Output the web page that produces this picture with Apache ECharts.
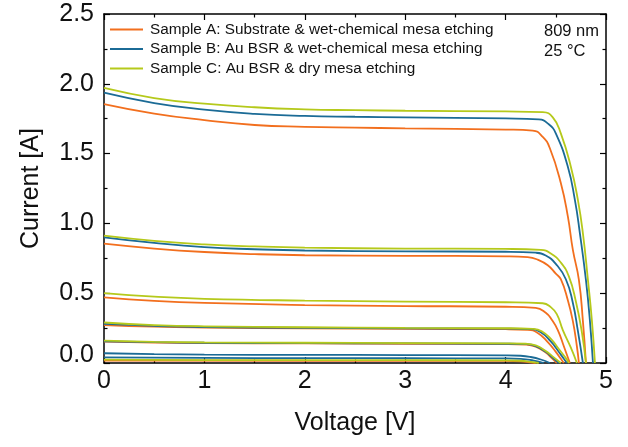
<!DOCTYPE html>
<html>
<head>
<meta charset="utf-8">
<script src="https://cdn.jsdelivr.net/npm/echarts@6/dist/echarts.min.js"></script>
<style>
html,body{margin:0;padding:0;background:#fff;}
#main{width:628px;height:447px;}
</style>
</head>
<body>
<div id="main"></div>
<script>
// 图例名称
var names = ['Sample A: Substrate & wet-chemical mesa etching',
	'Sample B: Au BSR & wet-chemical mesa etching',
	'Sample C: Au BSR & dry mesa etching'];
var colors = ['#f26f1e', '#1b6b96', '#b5c91b'];
var xTicks = [0, 1, 2, 3, 4, 5];
var yTicks = [0, 0.5, 1.0, 1.5, 2.0, 2.5];

// [电压 V, 电流 A]  —— level 1 (highest irradiance)
var a1 = [[0,1.855],[0.5,1.787],[1,1.74],[1.5,1.705],[2,1.692],[2.5,1.686],[3,1.681],[4,1.672],[4.27,1.665],[4.37,1.62],[4.44,1.54],[4.55,1.29],[4.62,1.05],[4.67,0.81],[4.73,0.595],[4.77,0.3],[4.8,0]];
var b1 = [[0,1.936],[0.5,1.862],[1,1.815],[1.5,1.785],[2,1.77],[2.5,1.764],[3,1.76],[4,1.752],[4.33,1.745],[4.43,1.71],[4.5,1.645],[4.62,1.406],[4.69,1.168],[4.74,0.929],[4.8,0.595],[4.84,0.3],[4.87,0]];
var c1 = [[0,1.97],[0.5,1.898],[1,1.858],[1.5,1.832],[2,1.817],[2.5,1.811],[3,1.807],[4,1.802],[4.37,1.797],[4.47,1.76],[4.55,1.645],[4.65,1.406],[4.72,1.168],[4.77,0.929],[4.82,0.595],[4.86,0.3],[4.89,0]];
// level 2
var a2 = [[0,0.855],[0.5,0.82],[1,0.795],[1.5,0.78],[2,0.772],[3,0.768],[4,0.764],[4.22,0.758],[4.32,0.74],[4.42,0.7],[4.5,0.64],[4.55,0.6],[4.62,0.45],[4.67,0.3],[4.71,0.12],[4.73,0]];
var b2 = [[0,0.9],[0.5,0.86],[1,0.83],[1.5,0.815],[2,0.806],[3,0.8],[4,0.797],[4.3,0.79],[4.4,0.77],[4.5,0.71],[4.6,0.6],[4.67,0.43],[4.72,0.23],[4.77,0]];
var c2 = [[0,0.912],[0.5,0.875],[1,0.85],[1.5,0.835],[2,0.826],[3,0.82],[4,0.817],[4.35,0.81],[4.45,0.785],[4.55,0.72],[4.63,0.62],[4.7,0.44],[4.76,0.22],[4.8,0]];
// level 3
var a3 = [[0,0.47],[0.5,0.445],[1,0.43],[2,0.415],[3,0.408],[4,0.403],[4.3,0.395],[4.4,0.36],[4.46,0.31],[4.52,0.236],[4.58,0.12],[4.64,0]];
var c3 = [[0,0.5],[0.5,0.475],[1,0.46],[2,0.447],[3,0.44],[4,0.435],[4.37,0.428],[4.45,0.4],[4.51,0.35],[4.57,0.236],[4.65,0.11],[4.71,0]];
// level 4
var a4 = [[0,0.272],[0.5,0.26],[1,0.254],[2,0.248],[3,0.244],[4,0.242],[4.22,0.238],[4.32,0.215],[4.42,0.15],[4.5,0.08],[4.55,0.03],[4.58,0]];
var b4 = [[0,0.28],[0.5,0.266],[1,0.258],[2,0.252],[3,0.248],[4,0.246],[4.25,0.242],[4.35,0.22],[4.45,0.155],[4.52,0.09],[4.58,0.03],[4.61,0]];
var c4 = [[0,0.29],[0.5,0.272],[1,0.263],[2,0.256],[3,0.251],[4,0.249],[4.27,0.245],[4.36,0.228],[4.46,0.165],[4.53,0.1],[4.6,0.035],[4.63,0]];
// level 5
var a5 = [[0,0.153],[0.5,0.147],[1,0.143],[2,0.14],[3,0.138],[4,0.136],[4.2,0.132],[4.3,0.117],[4.4,0.075],[4.46,0.035],[4.51,0]];
var b5 = [[0,0.155],[0.5,0.149],[1,0.145],[2,0.142],[3,0.14],[4,0.138],[4.2,0.135],[4.3,0.121],[4.4,0.08],[4.47,0.037],[4.53,0]];
var c5 = [[0,0.16],[0.5,0.152],[1,0.148],[2,0.145],[3,0.143],[4,0.141],[4.2,0.138],[4.3,0.126],[4.4,0.086],[4.48,0.04],[4.55,0]];
// level 6 / 7
var b6 = [[0,0.07],[0.5,0.064],[1,0.06],[2,0.058],[3,0.057],[4,0.055],[4.15,0.052],[4.25,0.043],[4.35,0.025],[4.44,0]];
var b7 = [[0,0.04],[1,0.036],[2,0.035],[3,0.034],[4,0.033],[4.15,0.03],[4.28,0.017],[4.38,0]];
var a7 = [[0,0.018],[2,0.016],[4,0.015],[4.15,0.012],[4.24,0.005],[4.3,0]];
var c7 = [[0,0.024],[1,0.021],[2,0.02],[3,0.02],[4,0.019],[4.15,0.016],[4.25,0.008],[4.33,0]];

var curves = [
	[0,a1],[1,b1],[2,c1],
	[0,a2],[1,b2],[2,c2],
	[0,a3],[2,c3],
	[0,a4],[1,b4],[2,c4],
	[0,a5],[1,b5],[2,c5],
	[1,b6],[0,a7],[1,b7],[2,c7]
];

function makeSeries(){
	var s = [];
	for(var i=0;i<curves.length;i++){
		var k = curves[i][0];
		s.push({
			name : names[k],
			type : 'line',
			data : curves[i][1],
			symbol : 'none',
			smooth : 0.5,
			clip : true,
			lineStyle : {color : colors[k], width : 1.8},
			itemStyle : {color : colors[k]},
			z : 2 + k
		});
	}
	return s;
}

function axisBase(){
	return {
		type : 'value',
		axisLine : {show : true, onZero : false, lineStyle : {color : '#000', width : 1.5}},
		axisTick : {show : true, inside : true, length : 6, lineStyle : {color : '#000', width : 1.2}},
		minorTick : {show : true, splitNumber : 2, length : 3.5, lineStyle : {color : '#000', width : 1.2}},
		splitLine : {show : false}
	};
}

var font = '"Liberation Sans", Arial, sans-serif';

var xb = axisBase();
xb.min = xTicks[0]; xb.max = xTicks[xTicks.length-1]; xb.interval = 1;
xb.position = 'bottom';
xb.name = 'Voltage [V]';
xb.nameLocation = 'middle';
xb.nameGap = 48;
xb.nameTextStyle = {fontFamily : font, fontSize : 25, color : '#111'};
xb.axisLabel = {fontFamily : font, fontSize : 25, color : '#111', margin : 6};

var xt = axisBase();
xt.min = 0; xt.max = 5; xt.interval = 1;
xt.position = 'top';
xt.axisLabel = {show : false};

var yl = axisBase();
yl.min = yTicks[0]; yl.max = yTicks[yTicks.length-1]; yl.interval = 0.5;
yl.position = 'left';
yl.name = 'Current [A]';
yl.nameLocation = 'middle';
yl.nameGap = 60;
yl.nameTextStyle = {fontFamily : font, fontSize : 25, color : '#111'};
yl.axisLabel = {
	fontFamily : font, fontSize : 25, color : '#111', margin : 10,
	formatter : function(v){
		// 0.0 稍微上移, 避免和x轴的0重叠
		if(v==0){ return '{z|0.0}'; }
		return v.toFixed(1);
	},
	rich : {z : {fontFamily : font, fontSize : 25, color : '#111', padding : [0,0,16,0]}}
};

var yr = axisBase();
yr.min = 0; yr.max = 2.5; yr.interval = 0.5;
yr.position = 'right';
yr.axisLabel = {show : false};

var myChart = echarts.init(document.getElementById('main'), null, {renderer : 'canvas'});
var option = {
	backgroundColor : '#fff',
	animation : false,
	grid : {left : 104, right : 22, top : 14, bottom : 84, containLabel : false},
	legend : {
		data : names,
		icon : 'rect',
		orient : 'vertical',
		left : 110,
		top : 22,
		padding : 0,
		itemWidth : 33,
		itemHeight : 1.8,
		itemGap : 4.5,
		textStyle : {fontFamily : font, fontSize : 15.3, color : '#111', padding : [0,0,0,2]}
	},
	graphic : [
		{type : 'text', left : 544, top : 23, style : {text : '809 nm', font : '16.5px ' + font, fill : '#111'}},
		{type : 'text', left : 544, top : 43, style : {text : '25 °C', font : '16.5px ' + font, fill : '#111'}}
	],
	xAxis : [xb, xt],
	yAxis : [yl, yr],
	series : makeSeries()
};
myChart.setOption(option);
</script>
</body>
</html>
